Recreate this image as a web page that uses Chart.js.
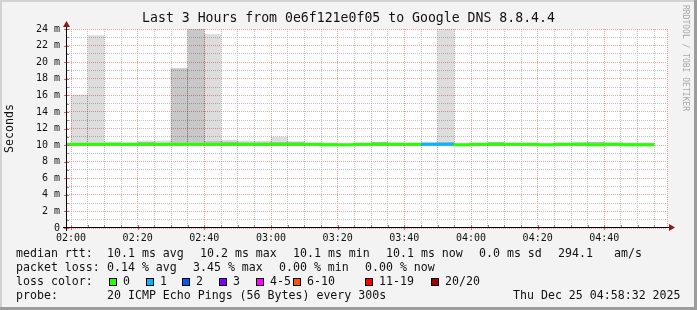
<!DOCTYPE html>
<html>
<head>
<meta charset="utf-8">
<script src="https://cdn.jsdelivr.net/npm/chart.js@4.4.1/dist/chart.umd.min.js"></script>
<style>
  html, body { margin: 0; padding: 0; background: #f3f3f3; }
  canvas { display: block; }
</style>
</head>
<body>
<canvas id="smoke" width="697" height="310"></canvas>
<script>
// 5 minute slots, start time of each slot
const slotTimes = ["01:55","02:00","02:05","02:10","02:15","02:20","02:25","02:30","02:35","02:40","02:45","02:50",
  "02:55","03:00","03:05","03:10","03:15","03:20","03:25","03:30","03:35","03:40","03:45","03:50",
  "03:55","04:00","04:05","04:10","04:15","04:20","04:25","04:30","04:35","04:40","04:45","04:50"];
// median rtt (ms)
const median = [10.1, 10.1, 10.1, 10.1, 10.1, 10.1, 10.1, 10.1, 10.1, 10.1, 10.1, 10.1,
  10.1, 10.1, 10.1, 10.1, 10.1, 10.05, 10.05, 10.1, 10.1, 10.1, 10.1, 10.1,
  10.1, 10.03, 10.1, 10.1, 10.1, 10.1, 10.03, 10.1, 10.1, 10.03, 10.1, 10.03];
// lost pings out of 20
const lossCount = [0,0,0,0,0,0,0,0,0,0,0,0, 0,0,0,0,0,0,0,0,0,0,1,1, 0,0,0,0,0,0,0,0,0,0,0,0];
// smoke: lowest ping, upper edge of dense smoke, highest ping (ms)
const smokeLow = [9.95, 9.95, 9.95, 9.95, 9.95, 9.95, 9.95, 9.95, 9.95, 9.95, 9.95, 9.95,
  9.95, 9.95, 9.95, 9.95, 9.95, 9.95, 9.95, 9.95, 9.95, 9.95, 9.95, 9.95,
  9.95, 9.95, 9.95, 9.95, 9.95, 9.95, 9.95, 9.95, 9.95, 9.95, 9.95, 9.95];
const smokeMid = [10.1, 10.2, 10.2, 10.2, 10.15, 10.3, 10.2, 19.2, 28, 10.4, 10.35, 10.25,
  10.25, 10.3, 10.35, 10.22, 10.15, 10.1, 10.1, 10.32, 10.15, 10.1, 10.2, 10.3,
  10.1, 10.2, 10.3, 10.1, 10.1, 10.1, 10.22, 10.15, 10.35, 10.15, 10.15, 10.15];
const smokeHigh = [10.1, 16.05, 23.2, 10.38, 10.25, 10.5, 10.5, 19.2, 28, 23.35, 10.6, 10.5,
  10.48, 10.97, 10.4, 10.22, 10.3, 10.15, 10.15, 10.32, 10.28, 10.15, 10.35, 28,
  10.15, 10.2, 10.35, 10.15, 10.15, 10.15, 10.22, 10.35, 10.35, 10.3, 10.3, 10.3];

const xTickLabels = ["02:00","02:20","02:40","03:00","03:20","03:40","04:00","04:20","04:40"];
const yTickLabels = ["0","2 m","4 m","6 m","8 m","10 m","12 m","14 m","16 m","18 m","20 m","22 m","24 m"];
const lossLabels = ["0","1","2","3","4-5","6-10","11-19","20/20"];
const lossColors = ["#26ff00","#00b8ff","#0059ff","#7e00ff","#ff00ff","#ff5500","#ff0000","#a10000"];

const STEP = 5;
const toMin = t => { const [h, m] = t.split(":").map(Number); return h * 60 + m - 120; };
const lossBucket = n => n >= 20 ? 7 : n >= 11 ? 6 : n >= 6 ? 5 : n >= 4 ? 4 : n;

const mono = "'DejaVu Sans Mono', monospace";
const majorGrid = "rgba(240,130,130,0.75)";
const minorGrid = "rgba(190,190,190,0.9)";

const slotCenters = slotTimes.map(t => toMin(t) + STEP / 2);
const medianPts = slotTimes.map((t, i) => ({x: toMin(t), y: median[i]}));
medianPts.push({x: toMin(slotTimes[slotTimes.length - 1]) + STEP, y: median[median.length - 1]});

const frame = {
  id: "frame",
  beforeDraw(chart) {
    const {ctx, chartArea: a, width: W, height: H} = chart;
    ctx.save();
    ctx.fillStyle = "#f3f3f3"; ctx.fillRect(0, 0, W, H);
    ctx.fillStyle = "#d2d2d2"; ctx.fillRect(0, 0, W, 2); ctx.fillRect(0, 0, 2, H);
    ctx.fillStyle = "#9c9c9c"; ctx.fillRect(W - 3, 0, 3, H); ctx.fillRect(0, H - 3, W, 3);
    ctx.fillStyle = "#fff"; ctx.fillRect(a.left, a.top, a.right - a.left, a.bottom - a.top);
    ctx.restore();
  },
  afterDraw(chart) {
    const {ctx, chartArea: a, width: W, scales} = chart;
    ctx.save();
    // right edge grid line
    ctx.strokeStyle = majorGrid; ctx.setLineDash([1, 1]);
    ctx.beginPath(); ctx.moveTo(a.right + 0.5, a.top); ctx.lineTo(a.right + 0.5, a.bottom); ctx.stroke();
    ctx.setLineDash([]);
    // small tick marks on the axes
    scales.x.ticks.forEach(t => {
      const px = Math.round(scales.x.getPixelForValue(t.value)) + 0.5;
      const major = t.value % 20 === 0;
      ctx.strokeStyle = major ? "#e06060" : "#888";
      ctx.beginPath(); ctx.moveTo(px, a.bottom - 3); ctx.lineTo(px, a.bottom + (major ? 2 : 0)); ctx.stroke();
    });
    scales.y.ticks.forEach(t => {
      const py = Math.round(scales.y.getPixelForValue(t.value)) + 0.5;
      const major = t.value % 2 === 0;
      ctx.strokeStyle = major ? "#e06060" : "#888";
      ctx.beginPath(); ctx.moveTo(a.left - (major ? 3 : 1), py); ctx.lineTo(a.left + 2, py); ctx.stroke();
    });
    // axes
    ctx.strokeStyle = "#000"; ctx.lineWidth = 1;
    ctx.beginPath();
    ctx.moveTo(a.left - 4, a.bottom - 0.5); ctx.lineTo(a.right + 3, a.bottom - 0.5);
    ctx.moveTo(a.left - 0.5, a.bottom + 3); ctx.lineTo(a.left - 0.5, a.top - 3);
    ctx.stroke();
    ctx.fillStyle = "#8b1a1a";
    ctx.beginPath();
    ctx.moveTo(a.right + 8, a.bottom - 0.5); ctx.lineTo(a.right + 2, a.bottom - 4); ctx.lineTo(a.right + 2, a.bottom + 3);
    ctx.fill();
    ctx.beginPath();
    ctx.moveTo(a.left - 0.5, a.top - 8); ctx.lineTo(a.left - 4, a.top - 2); ctx.lineTo(a.left + 3, a.top - 2);
    ctx.fill();

    ctx.fillStyle = "#111";
    ctx.textBaseline = "middle";
    // title
    ctx.font = "13.2px " + mono; ctx.textAlign = "center";
    ctx.fillText("Last 3 Hours from 0e6f121e0f05 to Google DNS 8.8.4.4", W / 2, 19);
    // y title
    ctx.font = "11.6px " + mono;
    ctx.save(); ctx.translate(10, (a.top + a.bottom) / 2); ctx.rotate(-Math.PI / 2);
    ctx.fillText("Seconds", 0, 0); ctx.restore();
    // watermark
    ctx.save(); ctx.fillStyle = "#a8a8a8"; ctx.font = "8px " + mono; ctx.textAlign = "left";
    ctx.translate(685, 5); ctx.rotate(Math.PI / 2);
    ctx.fillText("RRDTOOL / TOBI OETIKER", 0, 0); ctx.restore();

    // legend
    ctx.textAlign = "left"; ctx.font = "11.6px " + mono;
    const rows = [
      [254, [["median rtt:", 16], ["10.1 ms avg", 107], ["10.2 ms max", 200], ["10.1 ms min", 293],
             ["10.1 ms now", 386], ["0.0 ms sd", 479], ["294.1", 558], ["am/s", 614]]],
      [268, [["packet loss:", 16], ["0.14 % avg", 107], ["3.45 % max", 193], ["0.00 % min", 279], ["0.00 % now", 365]]],
      [282, [["loss color:", 16]]],
      [296, [["probe:", 16], ["20 ICMP Echo Pings (56 Bytes) every 300s", 107], ["Thu Dec 25 04:58:32 2025", 513]]],
    ];
    rows.forEach(([y, items]) => items.forEach(([t, x]) => ctx.fillText(t, x, y)));
    const boxX = [109, 146, 182, 219, 256, 293, 365, 431];
    lossLabels.forEach((lab, i) => {
      ctx.fillStyle = lossColors[i];
      ctx.fillRect(boxX[i], 278, 8, 8);
      ctx.strokeStyle = "#000";
      ctx.strokeRect(boxX[i] + 0.5, 278.5, 7, 7);
      ctx.fillStyle = "#111";
      ctx.fillText(lab, boxX[i] + 14, 282);
    });
    ctx.restore();
  }
};

new Chart(document.getElementById("smoke"), {
  type: "bar",
  data: {
    datasets: [
      {
        type: "line",
        data: medianPts,
        stepped: "after",
        borderWidth: 3,
        pointRadius: 0,
        clip: 0,
        borderColor: lossColors[0],
        segment: {borderColor: c => lossColors[lossBucket(lossCount[c.p0DataIndex] || 0)]},
      },
      {
        data: slotCenters.map((x, i) => ({x, y: [smokeLow[i], smokeMid[i]]})),
        backgroundColor: "rgba(0,0,0,0.215)",
        grouped: false, barPercentage: 1, categoryPercentage: 1, borderWidth: 0, clip: 0,
      },
      {
        data: slotCenters.map((x, i) => ({x, y: [smokeMid[i], smokeHigh[i]]})),
        backgroundColor: "rgba(0,0,0,0.135)",
        grouped: false, barPercentage: 1, categoryPercentage: 1, borderWidth: 0, clip: 0,
      },
    ],
  },
  options: {
    responsive: false,
    animation: false,
    devicePixelRatio: 1,
    layout: {padding: {top: 29, right: 30, left: 0, bottom: 0}},
    plugins: {legend: {display: false}, tooltip: {enabled: false}},
    scales: {
      x: {
        type: "linear", min: -1.2, max: 178.8, offset: false,
        afterBuildTicks: s => { const t = []; for (let v = 0; v <= s.max; v += STEP) t.push({value: v}); s.ticks = t; },
        afterFit: s => { s.height = 82; },
        grid: {offset: false, color: c => c.tick && c.tick.value % 20 === 0 ? majorGrid : minorGrid, drawTicks: false},
        border: {display: false, dash: [1, 1]},
        ticks: {
          autoSkip: false, maxRotation: 0, padding: 4, color: "#111", font: {family: mono, size: 10},
          callback: v => v % 20 === 0 ? xTickLabels[v / 20] : "",
        },
      },
      y: {
        min: 0, max: 24,
        afterBuildTicks: s => { const t = []; for (let v = 0; v <= 24; v++) t.push({value: v}); s.ticks = t; },
        afterFit: s => { s.width = 67; },
        grid: {color: c => c.tick && c.tick.value % 2 === 0 ? majorGrid : minorGrid, drawTicks: false},
        border: {display: false, dash: [1, 1]},
        ticks: {
          autoSkip: false, padding: 7, color: "#111", font: {family: mono, size: 10},
          callback: v => v % 2 === 0 ? yTickLabels[v / 2] : "",
        },
      },
    },
  },
  plugins: [frame],
});
</script>
</body>
</html>
